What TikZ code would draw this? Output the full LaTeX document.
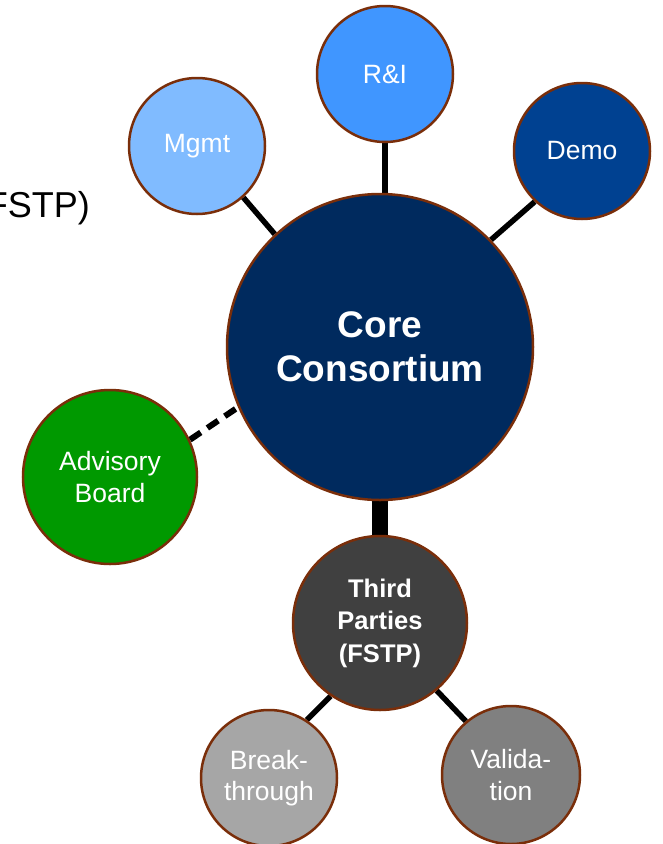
\documentclass[tikz,border=0pt]{standalone}
\usepackage{fontspec}
\setmainfont{Liberation Sans}
\usetikzlibrary{backgrounds}
\definecolor{rim}{RGB}{122,46,10}
\definecolor{corec}{RGB}{0,42,94}
\definecolor{ric}{RGB}{64,150,255}
\definecolor{mgmtc}{RGB}{128,187,255}
\definecolor{democ}{RGB}{0,65,145}
\definecolor{advc}{RGB}{0,153,0}
\definecolor{thirdc}{RGB}{64,64,64}
\definecolor{breakc}{RGB}{166,166,166}
\definecolor{validc}{RGB}{128,128,128}
\tikzset{
  bubble/.style={circle, draw=rim, line width=2.5pt, inner sep=0pt, text=white,
    align=center, font=\fontsize{26.5}{31.5}\selectfont},
  link/.style={line width=5.5pt, black},
  dlink/.style={line width=6pt, black, dash pattern=on 13pt off 8pt},
}
\begin{document}
\begin{tikzpicture}[x=1pt,y=-1pt]
\useasboundingbox (0,0) rectangle (662,844);
\clip (0,0) rectangle (662,844);
\node[anchor=base east, inner sep=0pt, font=\fontsize{36}{43}\selectfont] (fstp) at (90,217) {(FSTP)};
\node[bubble, fill=corec, minimum size=306pt, font=\bfseries\fontsize{37}{44}\selectfont] (core) at (380,347) {Core\\Consortium};
\node[bubble, fill=ric, minimum size=136pt] (ri) at (385,74) {R\&I};
\node[bubble, fill=mgmtc, minimum size=136pt] (mgmt) at (197,146) {Mgmt};
\node[bubble, fill=democ, minimum size=136pt] (demo) at (582,151) {Demo};
\node[bubble, fill=advc, minimum size=174pt] (adv) at (110,477) {Advisory\\Board};
\node[bubble, fill=thirdc, minimum size=174pt, font=\bfseries\fontsize{25.5}{32.5}\selectfont] (third) at (380,623) {Third\\Parties\\(FSTP)};
\node[bubble, fill=breakc, minimum size=136pt] (brk) at (269,778) {Break-\\through};
\node[bubble, fill=validc, minimum size=138pt] (val) at (511,775) {Valida-\\tion};
\begin{pgfonlayer}{background}
\draw[link] (ri.south) -- (ri.south |- core.north);
\draw[link] (mgmt.-48) -- (core.133);
\draw[link] (demo.227) -- (core.44);
\draw[dlink] (adv.25) -- (core.203);
\draw[line width=16pt, black] (core.south) -- (third.north);
\draw[link] (third.236) -- (brk.57);
\draw[link] (third.310) -- (val.130);
\end{pgfonlayer}
\end{tikzpicture}
\end{document}
